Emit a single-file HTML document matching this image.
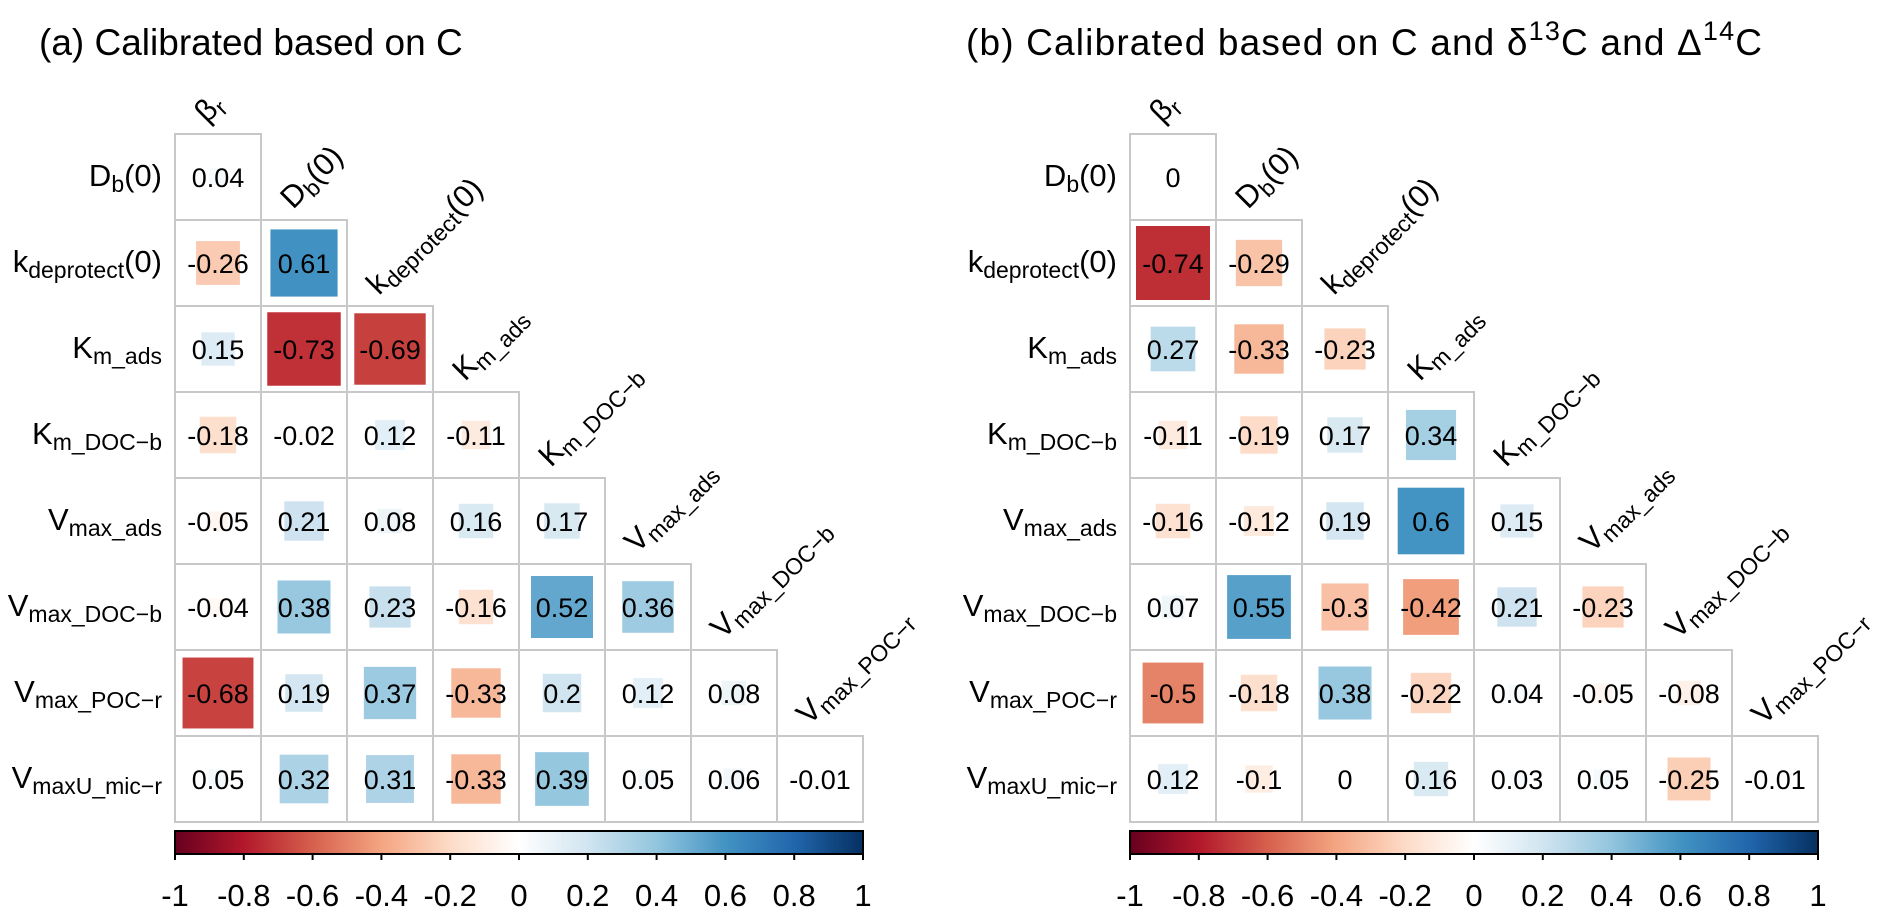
<!DOCTYPE html>
<html><head><meta charset="utf-8"><style>
html,body{margin:0;padding:0;background:#fff;}
svg{display:block;font-family:"Liberation Sans",Arial,sans-serif;}
</style></head><body>
<svg id="fig" width="1892" height="909" viewBox="0 0 1892 909" xmlns="http://www.w3.org/2000/svg">
<text x="39" y="55" font-size="37">(a) Calibrated based on C</text>
<text x="966" y="55" font-size="37" textLength="796" lengthAdjust="spacing">(b) Calibrated based on C and δ<tspan dy="-15" font-size="27">13</tspan><tspan dy="15">C and Δ</tspan><tspan dy="-15" font-size="27">14</tspan><tspan dy="15">C</tspan></text>
</svg>
<script>
// Parameter labels: [main, subscript, suffix]
const rowLabels = [["D","b","(0)"],["k","deprotect","(0)"],["K","m_ads",""],["K","m_DOC−b",""],["V","max_ads",""],["V","max_DOC−b",""],["V","max_POC−r",""],["V","maxU_mic−r",""]];
const colLabels = [["β","r",""],["D","b","(0)"],["k","deprotect","(0)"],["K","m_ads",""],["K","m_DOC−b",""],["V","max_ads",""],["V","max_DOC−b",""],["V","max_POC−r",""]];
const corrA = [
 [0.04],
 [-0.26,0.61],
 [0.15,-0.73,-0.69],
 [-0.18,-0.02,0.12,-0.11],
 [-0.05,0.21,0.08,0.16,0.17],
 [-0.04,0.38,0.23,-0.16,0.52,0.36],
 [-0.68,0.19,0.37,-0.33,0.2,0.12,0.08],
 [0.05,0.32,0.31,-0.33,0.39,0.05,0.06,-0.01]
];
const corrB = [
 [0],
 [-0.74,-0.29],
 [0.27,-0.33,-0.23],
 [-0.11,-0.19,0.17,0.34],
 [-0.16,-0.12,0.19,0.6,0.15],
 [0.07,0.55,-0.3,-0.42,0.21,-0.23],
 [-0.5,-0.18,0.38,-0.22,0.04,-0.05,-0.08],
 [0.12,-0.1,0,0.16,0.03,0.05,-0.25,-0.01]
];
const colorbarTicks = [-1,-0.8,-0.6,-0.4,-0.2,0,0.2,0.4,0.6,0.8,1];
const palette = ["#67001F","#B2182B","#D6604D","#F4A582","#FDDBC7","#FFFFFF","#D1E5F0","#92C5DE","#4393C3","#2166AC","#053061"];

const NS="http://www.w3.org/2000/svg";
const svg=document.getElementById('fig');
function mk(tag,attrs,parent){const e=document.createElementNS(NS,tag);for(const k in attrs)e.setAttribute(k,attrs[k]);(parent||svg).appendChild(e);return e;}
function hex(h){return [1,3,5].map(i=>parseInt(h.substr(i,2),16));}
function colorOf(v){
  const t=(v+1)/2*(palette.length-1);
  const i=Math.min(palette.length-2,Math.max(0,Math.floor(t)));const f=t-i;
  const a=hex(palette[i]),b=hex(palette[i+1]);
  return 'rgb('+a.map((x,k)=>Math.round(x+(b[k]-x)*f)).join(',')+')';
}
function labelText(parent,lab,attrs,subSize){
  const t=mk('text',attrs,parent);
  const m=document.createElementNS(NS,'tspan');m.textContent=lab[0];t.appendChild(m);
  const s=document.createElementNS(NS,'tspan');s.setAttribute('font-size',subSize);s.setAttribute('dy','6');s.textContent=lab[1];t.appendChild(s);
  if(lab[2]){const p=document.createElementNS(NS,'tspan');p.setAttribute('dy','-6');p.textContent=lab[2];t.appendChild(p);}
  return t;
}

const CELL=86;
function panel(x0,y0,data,key){
  const g=mk('g',{});
  
  
  const xs=j=>x0+j*CELL, ys=i=>y0+i*CELL;
  data.forEach((row,i)=>{
    row.forEach((v,j)=>{
      const cg=mk('g',{},g);
      
      
      mk('rect',{x:xs(j),y:ys(i),width:CELL,height:CELL,fill:'#fff',stroke:'#c8c8c8','stroke-width':2},cg);
      const s=CELL*Math.sqrt(Math.abs(v));
      const sq=mk('rect',{x:xs(j)+(CELL-s)/2,y:ys(i)+(CELL-s)/2,width:s,height:s,fill:colorOf(v)},cg);
      
      
      const t=mk('text',{x:xs(j)+CELL/2,y:ys(i)+CELL/2+10,'font-size':27,'text-anchor':'middle',fill:'#000'},cg);
      t.textContent=String(v);
      
      
    });
    const rl=labelText(g,rowLabels[i],{x:x0-13,y:ys(i)+CELL/2+9,'font-size':31,'text-anchor':'end'},23);
    
    
  });
  colLabels.forEach((lab,j)=>{
    const cx=xs(j)+CELL/2-11, cy=ys(j)-10;
    const cl=labelText(g,lab,{x:cx,y:cy,'font-size':31,transform:'rotate(-45 '+cx+' '+cy+')'},23);
    
    
  });
  const cb=mk('g',{},g);
  
  
  const W=CELL*8, cy0=831, H=23;
  const gid='grad'+key;
  const defs=mk('defs',{},cb);
  const lg=mk('linearGradient',{id:gid,x1:0,x2:1,y1:0,y2:0},defs);
  palette.forEach((c,k)=>mk('stop',{offset:k/(palette.length-1),'stop-color':c},lg));
  mk('rect',{x:x0,y:cy0,width:W,height:H,fill:'url(#'+gid+')',stroke:'#000','stroke-width':2},cb);
  const sx=v=>x0+(v+1)/2*W;
  colorbarTicks.forEach(v=>{
    mk('line',{x1:sx(v),x2:sx(v),y1:cy0+H,y2:cy0+H+6,stroke:'#000','stroke-width':2},cb);
    const t=mk('text',{x:sx(v),y:cy0+H+52,'font-size':31,'text-anchor':'middle'},cb);
    t.textContent=String(v);
    
    
  });
}
panel(175,134,corrA,'a');
panel(1130,134,corrB,'b');
</script>
</body></html>
